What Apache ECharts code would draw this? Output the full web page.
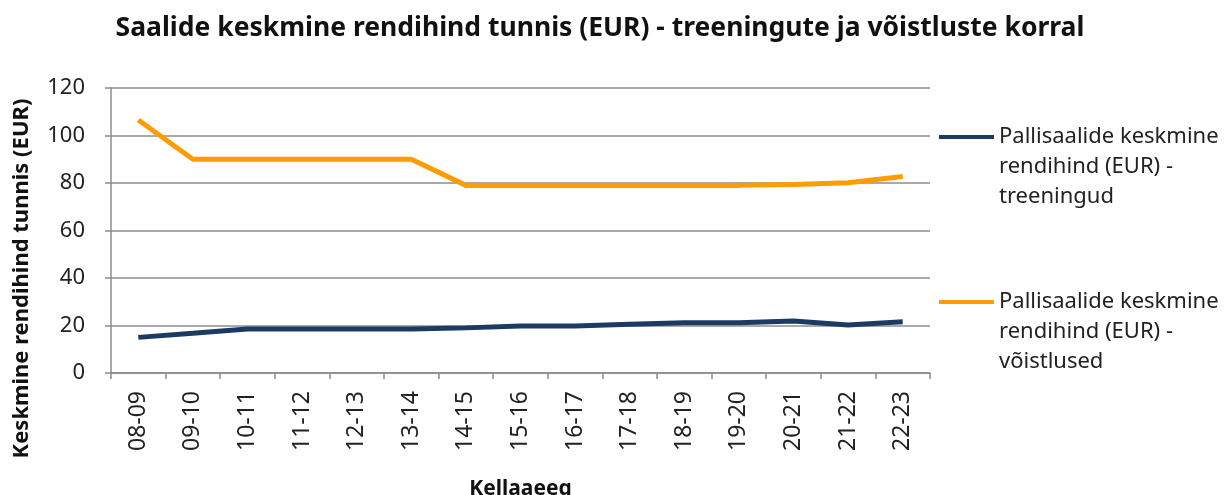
<!DOCTYPE html>
<html>
<head>
<meta charset="utf-8">
<script src="https://cdn.jsdelivr.net/npm/echarts@6/dist/echarts.min.js"></script>
<style>
  html, body {margin: 0; padding: 0; background: #fff;}
  #chart {width: 1224px; height: 495px;}
</style>
</head>
<body>
<div id="chart"></div>
<script>
const hours = ["08-09", "09-10", "10-11", "11-12", "12-13", "13-14", "14-15", "15-16",
  "16-17", "17-18", "18-19", "19-20", "20-21", "21-22", "22-23"];
const training = [15, 16.7, 18.5, 18.5, 18.5, 18.5, 19, 19.8, 19.8, 20.5, 21.2, 21.2, 21.9, 20.2, 21.6];
const competition = [106.5, 90, 90, 90, 90, 90, 79, 79, 79, 79, 79, 79, 79.4, 80.1, 82.7];
const yTicks = [0, 20, 40, 60, 80, 100, 120];

const nameTraining = "Pallisaalide keskmine rendihind (EUR) - treeningud";
const nameCompetition = "Pallisaalide keskmine rendihind (EUR) - võistlused";

const FONT = "Noto Sans";
const NAVY = "#1c3a63";
const ORANGE = "#ff9c00";
const GRID_COLOR = "#8c8c8c";

// two empty lines on top so the icon lines up with the first real line
const legendText = {
  [nameTraining]: "\n\nPallisaalide keskmine\nrendihind (EUR) -\ntreeningud",
  [nameCompetition]: "\n\nPallisaalide keskmine\nrendihind (EUR) -\nvõistlused",
};

const LEGEND_LH = 30;

const legendBase = {
  orient: "vertical",
  left: 934,
  itemWidth: 55,
  itemHeight: 4,
  itemGap: 3,
  formatter: (n) => legendText[n],
  textStyle: {
    fontFamily: FONT,
    fontSize: 22,
    lineHeight: LEGEND_LH,
    color: "#222",
  },
};

const chart = echarts.init(document.getElementById("chart"));
chart.setOption({
  animation: false,
  title: {
    text: "Saalide keskmine rendihind tunnis (EUR) - treeningute ja võistluste korral",
    left: 595,
    textAlign: "center",
    top: 10,
    textStyle: {fontFamily: FONT, fontSize: 26.5, fontWeight: "bold", color: "#111"},
  },
  legend: [
    Object.assign({}, legendBase, {top: 137 - LEGEND_LH * 2.5 - 5, data: [{name: nameTraining, icon: "rect"}]}),
    Object.assign({}, legendBase, {top: 302 - LEGEND_LH * 2.5 - 5, data: [{name: nameCompetition, icon: "rect"}]}),
  ],
  grid: {left: 111, right: 294, top: 88, bottom: 122, outerBoundsMode: "none", containLabel: false},
  xAxis: {
    type: "category",
    data: hours,
    boundaryGap: true,
    name: "Kellaaeeg",
    nameLocation: "middle",
    nameGap: 106,
    nameTextStyle: {fontFamily: FONT, fontSize: 21, fontWeight: "bold", color: "#111"},
    axisLine: {lineStyle: {color: GRID_COLOR, width: 1.5}},
    axisTick: {show: true, length: 6, alignWithLabel: false, lineStyle: {color: GRID_COLOR, width: 1.5}},
    axisLabel: {rotate: 90, margin: 18, fontFamily: FONT, fontSize: 23, color: "#222", interval: 0},
  },
  yAxis: {
    type: "value",
    min: yTicks[0],
    max: yTicks[yTicks.length - 1],
    interval: 20,
    name: "Keskmine rendihind tunnis (EUR)",
    nameLocation: "middle",
    nameGap: 78,
    nameTextStyle: {fontFamily: FONT, fontSize: 22, fontWeight: "bold", color: "#111", padding: [0, 96, 0, 0]},
    axisLine: {show: true, lineStyle: {color: GRID_COLOR, width: 1.5}},
    axisTick: {show: true, length: 6, lineStyle: {color: GRID_COLOR, width: 1.5}},
    axisLabel: {margin: 26, fontFamily: FONT, fontSize: 22, color: "#222"},
    splitLine: {lineStyle: {color: GRID_COLOR, width: 1.5}},
  },
  series: [
    {
      name: nameTraining,
      type: "line",
      data: training,
      symbol: "none",
      color: NAVY,
      lineStyle: {width: 5, color: NAVY},
    },
    {
      name: nameCompetition,
      type: "line",
      data: competition,
      symbol: "none",
      color: ORANGE,
      lineStyle: {width: 5, color: ORANGE},
    },
  ],
});
</script>
</body>
</html>
